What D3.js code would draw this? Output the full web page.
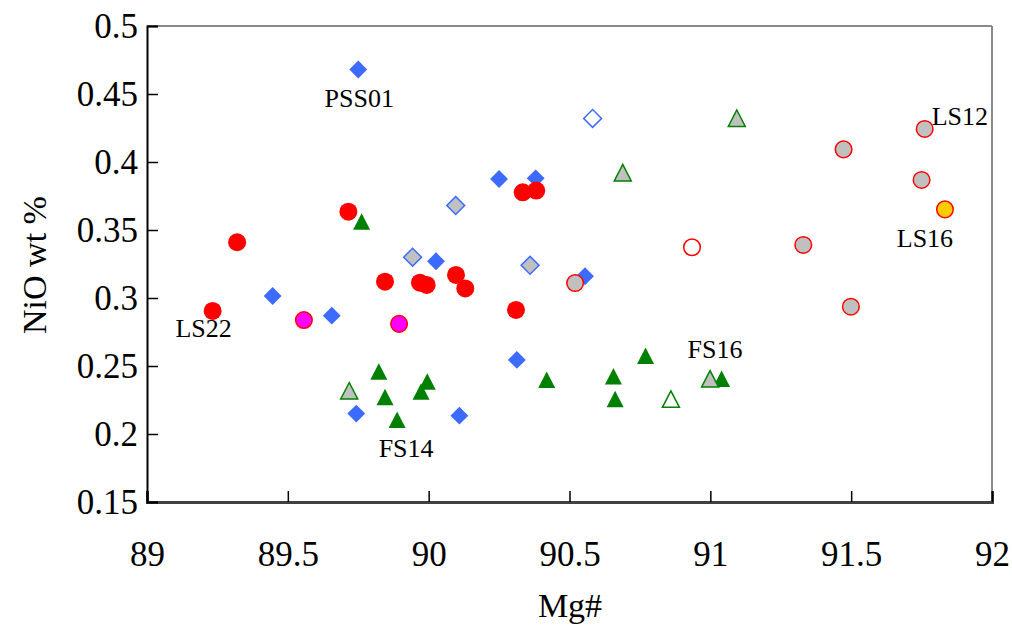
<!DOCTYPE html>
<html>
<head>
<meta charset="utf-8">
<script src="https://cdn.jsdelivr.net/npm/d3@7"></script>
<style>
  body { margin: 0; background: #fff; }
  text { font-family: "Liberation Serif", "Times New Roman", serif; }
</style>
</head>
<body>
<svg id="vis"></svg>
<script>
const WIDTH = 1012;
const HEIGHT = 625;

// ticks
const X_TICKS = [89, 89.5, 90, 90.5, 91, 91.5, 92];
const Y_TICKS = [0.15, 0.2, 0.25, 0.3, 0.35, 0.4, 0.45, 0.5];

// datos: [Mg#, NiO]
const diamantesAzules = [
  [89.75, 0.468], [89.446, 0.3015], [89.656, 0.287], [90.026, 0.327],
  [90.25, 0.3875], [90.38, 0.388], [90.555, 0.316], [90.313, 0.2545],
  [89.743, 0.215], [90.109, 0.2135],
];
const diamantesGrises = [[90.096, 0.368], [89.943, 0.33], [90.36, 0.324]];
const diamantesVacios = [[90.582, 0.432]];

const circulosRojos = [
  [89.715, 0.3635], [89.32, 0.341], [89.845, 0.312], [89.969, 0.3113],
  [89.993, 0.3096], [90.097, 0.317], [90.13, 0.307], [89.233, 0.2905],
  [90.334, 0.3777], [90.382, 0.379], [90.31, 0.2912],
];
const circulosGrises = [
  [90.52, 0.311], [91.33, 0.339], [91.473, 0.4093], [91.499, 0.2936],
  [91.75, 0.3868], [91.761, 0.4243],
];
const circulosVacios = [[90.935, 0.3373]];
const circulosAmarillos = [[91.833, 0.3652]];
const circulosMagenta = [[89.557, 0.2838], [89.895, 0.281]];

const triangulosVerdes = [
  [89.762, 0.356], [89.823, 0.2458], [89.845, 0.227], [89.995, 0.2385],
  [89.973, 0.2311], [89.888, 0.2103], [90.419, 0.2397], [90.656, 0.2422],
  [90.662, 0.2255], [90.77, 0.2574], [91.04, 0.2404],
];
const triangulosGrises = [[89.718, 0.2316], [90.689, 0.392], [91.094, 0.432], [90.999, 0.2404]];
const triangulosVacios = [[90.86, 0.2255]];

// etiquetas de muestras, ancladas a un punto
const etiquetas = [
  { name: "PSS01", punto: diamantesAzules[0], dx: 1, dy: 37, anchor: "middle" },
  { name: "LS22", punto: circulosRojos[7], dx: -9, dy: 26, anchor: "middle" },
  { name: "FS14", punto: triangulosVerdes[5], dx: 9, dy: 37, anchor: "middle" },
  { name: "FS16", punto: triangulosGrises[3], dx: 5, dy: -21, anchor: "middle" },
  { name: "LS12", punto: circulosGrises[5], dx: 7, dy: -4, anchor: "start" },
  { name: "LS16", punto: circulosAmarillos[0], dx: -20, dy: 38, anchor: "middle" },
];

const MARGIN = { top: 26, bottom: 123, left: 147, right: 20 };
const WIDTHVIS = WIDTH - MARGIN.left - MARGIN.right;
const HEIGHTVIS = HEIGHT - MARGIN.top - MARGIN.bottom;

const svg = d3.select("#vis").attr("width", WIDTH).attr("height", HEIGHT);
const contenedor = svg.append("g").attr("transform", `translate(${MARGIN.left},${MARGIN.top})`);

const escalaX = d3.scaleLinear().domain([89, 92]).range([0, WIDTHVIS]);
const escalaY = d3.scaleLinear().domain([0.15, 0.5]).range([HEIGHTVIS, 0]);

// marco gris arriba y a la derecha
contenedor.append("line")
  .attr("x1", 0).attr("x2", WIDTHVIS).attr("y1", 0).attr("y2", 0)
  .attr("stroke", "#8a8a8a").attr("stroke-width", 2);
contenedor.append("line")
  .attr("x1", WIDTHVIS).attr("x2", WIDTHVIS).attr("y1", 0).attr("y2", HEIGHTVIS)
  .attr("stroke", "#8a8a8a").attr("stroke-width", 2);

// ejes
const ejeX = d3.axisBottom(escalaX).tickValues(X_TICKS).tickSize(-11).tickPadding(39)
  .tickFormat(d3.format("~g"));
const ejeY = d3.axisLeft(escalaY).tickValues(Y_TICKS).tickSize(-11).tickPadding(9)
  .tickFormat(d3.format("~g"));

const gX = contenedor.append("g").attr("transform", `translate(0,${HEIGHTVIS})`).call(ejeX);
gX.select(".domain").attr("stroke", "#404040").attr("stroke-width", 3);
gX.selectAll(".tick line").attr("stroke", "#000").attr("stroke-width", 1.5);
gX.selectAll(".tick text").attr("font-size", 35).attr("fill", "#000");

const gY = contenedor.append("g").call(ejeY);
gY.select(".domain").attr("stroke", "#000").attr("stroke-width", 2);
gY.selectAll(".tick line").attr("stroke", "#000").attr("stroke-width", 1.5);
gY.selectAll(".tick text").attr("font-size", 35).attr("fill", "#000");

// títulos de ejes
svg.append("text")
  .attr("x", 570).attr("y", 617)
  .attr("text-anchor", "middle").attr("font-size", 34)
  .text("Mg#");
svg.append("text")
  .attr("transform", "translate(46,265) rotate(-90)")
  .attr("text-anchor", "middle").attr("font-size", 34)
  .text("NiO wt %");

// marcadores
const diamante = d3.symbol().type(d3.symbolSquare).size(160);
const triangulo = "M0,-8.5L8.5,8L-8.5,8Z";

function dibujarDiamantes(datos, fill) {
  contenedor.append("g").selectAll("path").data(datos).join("path")
    .attr("d", diamante)
    .attr("transform", (d) => `translate(${escalaX(d[0])},${escalaY(d[1])}) rotate(45)`)
    .attr("fill", fill)
    .attr("stroke", "#3d6bff")
    .attr("stroke-width", fill === "#3d6bff" ? 0 : 1.5);
}

function dibujarCirculos(datos, fill, stroke, r) {
  contenedor.append("g").selectAll("circle").data(datos).join("circle")
    .attr("cx", (d) => escalaX(d[0]))
    .attr("cy", (d) => escalaY(d[1]))
    .attr("r", r)
    .attr("fill", fill)
    .attr("stroke", stroke)
    .attr("stroke-width", stroke === "none" ? 0 : 1.5);
}

function dibujarTriangulos(datos, fill) {
  contenedor.append("g").selectAll("path").data(datos).join("path")
    .attr("d", triangulo)
    .attr("transform", (d) => `translate(${escalaX(d[0])},${escalaY(d[1])})`)
    .attr("fill", fill)
    .attr("stroke", "#008000")
    .attr("stroke-width", fill === "#008000" ? 0 : 1.5);
}

dibujarDiamantes(diamantesAzules, "#3d6bff");
dibujarDiamantes(diamantesGrises, "#c0c0c0");
dibujarDiamantes(diamantesVacios, "#fff");

dibujarCirculos(circulosRojos, "#ff0000", "none", 9);
dibujarCirculos(circulosGrises, "#c0c0c0", "#ff0000", 8.3);
dibujarCirculos(circulosVacios, "#fff", "#ff0000", 8.3);
dibujarCirculos(circulosAmarillos, "#ffcc00", "#ff0000", 8.3);
dibujarCirculos(circulosMagenta, "#ff00ff", "#ff0000", 8.3);

dibujarTriangulos(triangulosVerdes, "#008000");
dibujarTriangulos(triangulosGrises, "#c0c0c0");
dibujarTriangulos(triangulosVacios, "#fff");

// etiquetas
contenedor.append("g").selectAll("text").data(etiquetas).join("text")
  .attr("x", (d) => escalaX(d.punto[0]) + d.dx)
  .attr("y", (d) => escalaY(d.punto[1]) + d.dy)
  .attr("text-anchor", (d) => d.anchor)
  .attr("font-size", 26)
  .text((d) => d.name);
</script>
</body>
</html>
